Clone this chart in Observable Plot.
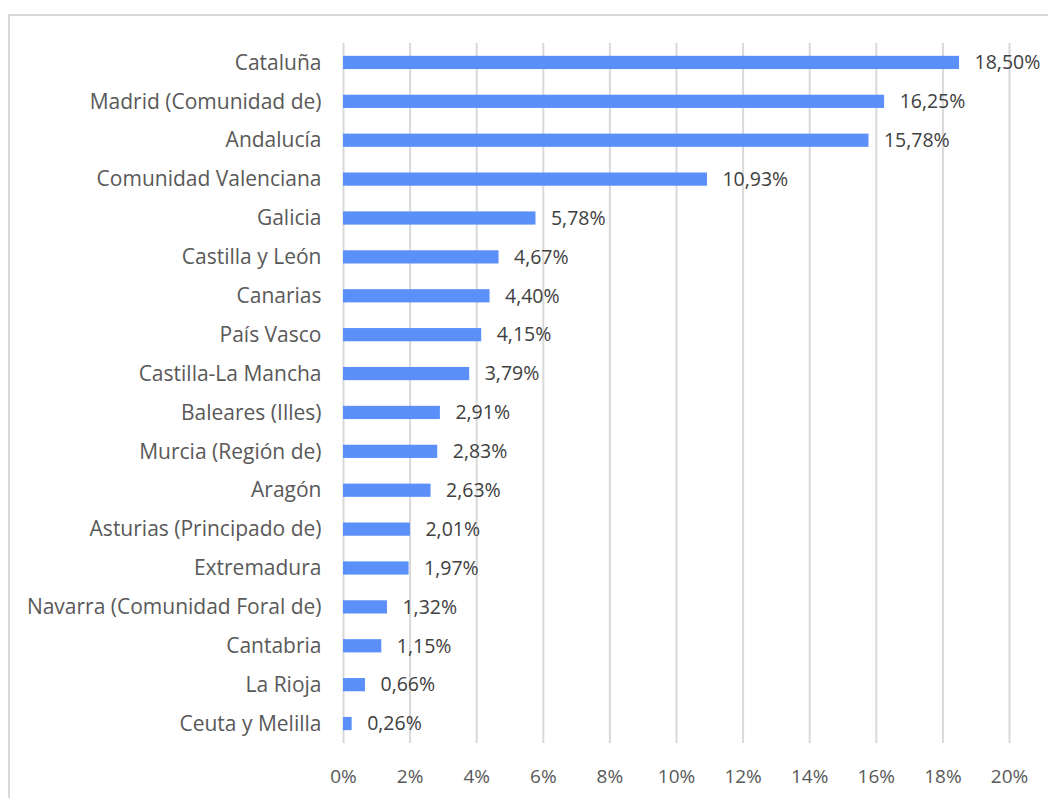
<!DOCTYPE html>
<html>
<head>
<meta charset="utf-8">
<script src="https://cdn.jsdelivr.net/npm/d3@7"></script>
<script src="https://cdn.jsdelivr.net/npm/@observablehq/plot@0.6"></script>
<style>
  html, body { margin: 0; padding: 0; background: #fff; overflow: hidden; }
  #wrap { position: relative; width: 1048px; height: 798px; }
  #frame { position: absolute; left: 8px; top: 14px; width: 1100px; height: 850px; border: 2px solid #d9d9d9; box-sizing: border-box; }
  #chart { position: absolute; left: 0; top: 0; }
</style>
</head>
<body>
<div id="wrap"><div id="frame"></div><div id="chart"></div></div>
<script>
const regions = ["Cataluña", "Madrid (Comunidad de)", "Andalucía", "Comunidad Valenciana", "Galicia", "Castilla y León", "Canarias", "País Vasco", "Castilla-La Mancha", "Baleares (Illes)", "Murcia (Región de)", "Aragón", "Asturias (Principado de)", "Extremadura", "Navarra (Comunidad Foral de)", "Cantabria", "La Rioja", "Ceuta y Melilla"];
const shares = [18.50, 16.25, 15.78, 10.93, 5.78, 4.67, 4.40, 4.15, 3.79, 2.91, 2.83, 2.63, 2.01, 1.97, 1.32, 1.15, 0.66, 0.26];
const xTicks = [0, 2, 4, 6, 8, 10, 12, 14, 16, 18, 20];

const data = regions.map((r, i) => ({region: r, value: shares[i]}));
const fmt = v => v.toFixed(2).replace(".", ",") + "%";
const font = "'Open Sans', Lato, sans-serif";

const chart = Plot.plot({
  width: 1048,
  height: 798,
  marginLeft: 343,
  marginRight: 39,
  marginTop: 43,
  marginBottom: 55,
  style: {fontFamily: font, fontSize: "18px", color: "#595959", background: "transparent"},
  x: {domain: [0, 20], ticks: xTicks, tickFormat: d => d + "%"},
  y: {domain: regions, paddingInner: 0.66, paddingOuter: 0.33, round: false, label: null},
  marks: [
    Plot.gridX(xTicks, {stroke: "#d9d9d9", strokeOpacity: 1, strokeWidth: 2}),
    Plot.axisX(xTicks, {tickSize: 0, tickPadding: 26, tickFormat: d => d + "%", label: null, fill: "#595959", fontSize: 19}),
    Plot.axisY({tickSize: 0, tickPadding: 22, label: null, fill: "#595959", fontSize: 21}),
    Plot.barX(data, {x: "value", y: "region", fill: "#5B8FF9"}),
    Plot.text(data, {x: "value", y: "region", text: d => fmt(d.value), textAnchor: "start", dx: 15, fill: "#404040", fontSize: 19.5})
  ]
});
document.getElementById("chart").appendChild(chart);
</script>
</body>
</html>
